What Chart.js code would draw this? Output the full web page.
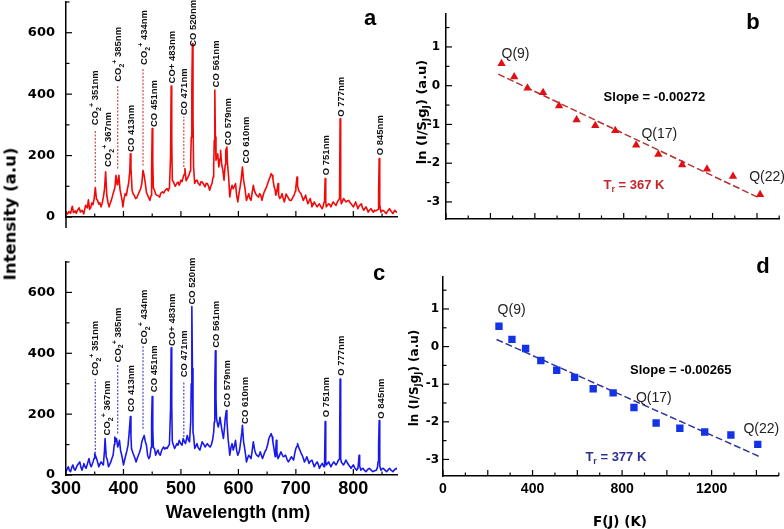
<!DOCTYPE html>
<html><head><meta charset="utf-8">
<script src="https://cdn.jsdelivr.net/npm/chart.js@4.4.1/dist/chart.umd.min.js"></script>
<style>
html,body{margin:0;padding:0;background:#fff;}
#root{position:relative;width:784px;height:529px;overflow:hidden;background:#fff;}
canvas{position:absolute;}
.t{position:absolute;white-space:nowrap;transform:translate(-50%,-50%);color:#000;line-height:1;}
.rot{transform:translate(-50%,-50%) rotate(-90deg);}
.sb{font-size:70%;position:relative;top:0.35em;}
</style></head><body>
<div id="root">
<canvas id="cA" width="400" height="240" style="left:0;top:0"></canvas>
<canvas id="cC" width="400" height="289" style="left:0;top:240px"></canvas>
<canvas id="cB" width="384" height="240" style="left:400px;top:0"></canvas>
<canvas id="cD" width="384" height="265" style="left:400px;top:264px"></canvas>
<div class="t rot" style="left:10px;top:214px;font:bold 16.5px 'DejaVu Sans'">Intensity (a.u)</div>
<div class="t" style="left:238px;top:512px;font:bold 18px 'Liberation Sans',Arial">Wavelength (nm)</div>
<div class="t" style="left:620px;top:521px;font:bold 13.5px 'DejaVu Sans'">F(J) (K)</div>
<div class="t rot" style="left:421px;top:112px;font:bold 13px 'DejaVu Sans'">ln (I/S<span class="sb">J</span>g<span class="sb">J</span>) (a.u)</div>
<div class="t rot" style="left:414px;top:378px;font:bold 12px 'DejaVu Sans'">ln (I/S<span class="sb">J</span>g<span class="sb">J</span>) (a.u)</div>
<div class="t" style="left:370px;top:18px;font:bold 22px 'Liberation Sans',Arial">a</div>
<div class="t" style="left:753px;top:22px;font:bold 22px 'Liberation Sans',Arial">b</div>
<div class="t" style="left:379px;top:273px;font:bold 22px 'Liberation Sans',Arial">c</div>
<div class="t" style="left:763px;top:266px;font:bold 22px 'Liberation Sans',Arial">d</div>
</div>
<script>
// ---------- DATA ----------
const wlTicks = [300,350,400,450,500,550,600,650,700,750,800,850];
const wlTickLabels = [300,400,500,600,700,800];
const intTicks = [0,100,200,300,400,500,600,700];
const intTickLabels = [0,200,400,600];
const fTicks = [0,100,200,300,400,500,600,700,800,900,1000,1100,1200,1300,1400,1500];
const fTickLabels = [0,400,800,1200];
const lnTicks = [-3,-2.5,-2,-1.5,-1,-0.5,0,0.5,1,1.5];
const lnTickLabels = [-3,-2,-1,0,1];

// panel a spectrum [wavelength nm, intensity a.u.]
const spectrumA = [[300,16],[303,10],[305,18],[308,12],[311,35],[313,14],[316,20],[318,12],[320,22],[323,30],[325,16],[328,22],[331,10],[334,38],[337,30],[339,56],[341,25],[343,30],[345,46],[347,40],[349,60],[351,96],[353,58],[355,54],[357,42],[359,46],[361,33],[363,45],[365,65],[367,90],[369,147],[371,70],[373,48],[375,33],[377,45],[379,55],[382,76],[385,95],[387,136],[389,105],[390,110],[392,136],[394,90],[396,70],[398,50],[399,33],[401,60],[403,76],[405,70],[407,92],[409,110],[411,150],[412,206],[413,160],[415,87],[417,75],[419,70],[421,60],[423,62],[425,71],[427,80],[430,92],[432,110],[434,152],[436,135],[438,110],[440,80],[442,71],[444,62],[446,54],[448,70],[449,150],[450,288],[451,180],[452,95],[454,87],[456,75],[458,71],[460,70],[463,65],[465,78],[468,82],[470,78],[473,88],[476,92],[478,85],[480,95],[482,200],[483,426],[484,250],[485,120],[487,114],[490,100],[493,110],[495,114],[497,103],
[500,120],[502,115],[504,130],[506,140],[507,158],[509,118],[511,125],[514,136],[516,150],[517,185],[518,260],[519,420],[520,565],[521,330],[522,163],[524,109],[526,118],[528,120],[530,110],[533,103],[535,115],[537,114],[540,105],[542,98],[544,110],[546,109],[548,100],[550,87],[552,100],[554,109],[556,130],[557,168],[558,250],[559,413],[560,260],[561,185],[563,200],[564,206],[566,163],[568,190],[569,217],[571,170],[573,152],[575,120],[577,170],[578,217],[580,228],[581,175],[583,130],[585,65],[587,90],[589,103],[591,92],[593,100],[595,109],[597,70],[599,49],[601,75],[603,98],[605,125],[607,163],[609,120],[611,98],[613,70],[614,54],[616,65],[618,76],[620,60],[622,54],[624,80],[626,103],[628,85],[630,76],[632,70],[635,65],[637,76],[639,70],[641,54],[643,70],[645,82],[647,90],[649,98],[651,110],[653,120],[655,130],[657,141],[659,135],[660,125],[662,100],[664,87],[665,71],[667,85],[669,109],[670,70],[672,60],[674,65],[676,76],[678,60],[680,49],[683,75],[686,65],[689,55],
[692,54],[695,65],[697,71],[699,85],[700,98],[702,130],[703,100],[705,87],[707,80],[709,76],[711,65],[713,54],[715,62],[717,71],[719,55],[721,43],[723,52],[725,60],[727,45],[728,33],[730,40],[732,49],[734,42],[737,33],[739,38],[741,43],[743,35],[746,27],[748,38],[749,49],[750,60],[751,125],[752,50],[753,33],[755,38],[757,43],[759,40],[761,33],[763,42],[765,49],[767,44],[770,38],[772,48],[774,54],[776,60],[777,320],[778,65],[779,43],[781,50],[783,60],[785,55],[787,49],[789,52],[792,54],[794,48],[796,43],[798,38],[800,33],[802,40],[804,49],[806,38],[808,27],[810,35],[812,40],[814,43],[816,30],[818,22],[820,28],[822,33],[824,25],[826,16],[828,22],[831,27],[833,20],[835,16],[837,22],[839,20],[841,22],[843,25],[844,80],[845,190],[846,40],[848,16],[851,22],[854,18],[857,11],[860,20],[863,27],[866,18],[869,11],[872,22],[875,16],[876,18]];

// panel c spectrum [wavelength nm, intensity a.u.]
const spectrumC = [[300,11],[302,20],[304,27],[306,15],[308,11],[310,25],[312,33],[314,20],[316,16],[318,25],[320,33],[322,38],[324,43],[326,25],[328,16],[330,30],[331,38],[333,28],[335,22],[337,35],[340,54],[342,35],[344,27],[346,38],[347,43],[349,55],[350,71],[352,60],[354,49],[356,35],[357,27],[359,35],[361,43],[363,38],[365,33],[367,80],[368,120],[370,60],[372,49],[374,27],[376,35],[378,43],[380,55],[382,65],[384,100],[385,125],[387,110],[388,120],[390,92],[392,105],[393,114],[395,80],[397,65],[399,45],[400,33],[402,50],[404,65],[406,80],[408,98],[410,141],[412,192],[413,130],[414,87],[416,75],[418,65],[420,55],[422,43],[424,55],[426,65],[428,75],[430,87],[432,110],[434,120],[436,130],[438,110],[440,98],[442,65],[444,54],[446,60],[448,90],[449,180],[450,258],[451,150],[452,90],[454,87],[456,65],[458,75],[460,82],[462,70],[464,65],[466,78],[468,87],[470,92],[472,85],[474,90],[476,87],[478,95],[480,100],[482,220],[483,418],[484,230],[485,110],[487,98],[489,87],[491,95],[493,103],[495,98],[497,114],
[499,105],[502,98],[504,120],[506,110],[508,103],[511,130],[513,115],[515,109],[517,174],[518,300],[519,554],[520,350],[521,140],[522,130],[524,87],[526,95],[528,103],[530,90],[533,82],[535,95],[537,109],[540,100],[542,92],[544,98],[546,103],[549,95],[551,92],[553,100],[555,114],[557,140],[558,174],[559,300],[560,408],[561,250],[562,185],[564,165],[565,158],[567,175],[568,190],[570,163],[572,140],[574,120],[576,160],[577,185],[579,212],[580,180],[582,120],[584,85],[585,65],[587,90],[589,103],[591,82],[593,95],[595,114],[597,80],[599,65],[601,75],[602,82],[604,110],[606,140],[607,163],[609,110],[611,87],[613,60],[614,43],[616,55],[618,65],[620,60],[622,54],[624,80],[626,109],[628,85],[630,71],[632,65],[635,60],[637,70],[638,76],[640,65],[642,54],[644,65],[646,76],[648,82],[649,87],[651,100],[653,120],[655,128],[657,136],[659,125],[660,109],[662,85],[664,60],[665,80],[666,114],[667,75],[669,54],[671,62],[674,76],[676,68],[678,60],[680,62],[682,65],
[685,50],[687,43],[690,52],[692,60],[694,55],[696,49],[698,70],[700,87],[702,95],[703,103],[705,90],[707,82],[709,72],[711,65],[713,55],[715,43],[717,50],[719,60],[721,50],[723,38],[725,45],[728,49],[730,38],[732,27],[734,35],[737,43],[739,35],[741,22],[743,30],[746,38],[748,30],[749,27],[750,40],[751,176],[752,45],[753,33],[755,38],[757,43],[759,35],[761,27],[763,35],[766,43],[768,38],[770,33],[772,40],[774,49],[776,52],[777,315],[778,55],[779,43],[781,38],[783,33],[785,40],[787,49],[789,42],[792,33],[794,28],[796,22],[798,28],[800,33],[802,25],[804,20],[806,16],[808,22],[809,40],[810,65],[811,30],[813,16],[815,20],[817,22],[819,16],[822,11],[825,18],[828,22],[831,16],[834,11],[837,14],[840,16],[842,25],[843,43],[844,100],[845,179],[846,30],[848,16],[850,20],[852,22],[855,16],[858,11],[861,18],[863,22],[866,15],[869,11],[872,18],[875,22],[876,18]];

// peak labels
const peakSpecies = ['CO2+','CO2+','CO2+','CO','CO2+','CO','CO+','CO','CO','CO','CO','CO','O','O','O'];
const peakText = ['351nm','367nm','385nm','413nm','434nm','451nm','483nm','471nm','520nm','561nm','579nm','610nm','751nm','777nm','845nm'];
const labelWlA = [350,372,390,412,435,452,484,505,520,560,581,612,751,777,845];
const labelBaseA = [299,163,440,212,495,293,435,331,554,422,234,174,136,326,201];
const labelWlC = [350,371,389,412,435,452,483,505,519,561,580,611,751,778,847];
const labelBaseC = [326,130,370,207,429,272,424,321,560,418,223,168,190,326,185];
// dashed guide lines
const dashWl = [351,390,434,505];
const dashLoA = [114,158,168,163], dashHiA = [285,430,484,326];
const dashLoC = [71,136,152,125], dashHiC = [315,364,424,304];

// Boltzmann plots
const fJB = [250,307,367,437,509,588,672,762,856,956,1063,1175,1292,1414];
const lnB = [0.57,0.23,-0.06,-0.18,-0.52,-0.88,-1.03,-1.16,-1.53,-1.77,-2.04,-2.15,-2.34,-2.81];
const fitB_x = [235,1402], fitB_y = [0.30,-2.874];
const fJD = [250,308,369,437,508,588,671,760,853,952,1058,1169,1286,1406];
const lnD = [0.54,0.19,-0.05,-0.37,-0.63,-0.82,-1.12,-1.23,-1.62,-2.03,-2.17,-2.27,-2.35,-2.60];
const fitD_x = [239,1419], fitD_y = [0.19,-2.937];

// ---------- HELPERS ----------
const SANS = "'Liberation Sans', Arial, sans-serif";
function drawRich(ctx, x, y, parts, opt) {
  ctx.save(); ctx.translate(x, y); if (opt.rotate) ctx.rotate(-Math.PI/2);
  const fam = opt.family || SANS;
  const f = p => (p.b ? 'bold ' : '') + p.s + 'px ' + fam;
  let w = 0; parts.forEach(p => { ctx.font = f(p); w += ctx.measureText(p.t).width; });
  let cx = opt.align === 'center' ? -w/2 : 0;
  ctx.fillStyle = opt.color || '#000'; ctx.textBaseline = 'alphabetic'; ctx.textAlign = 'left';
  const base = parts[0].s * 0.36;
  parts.forEach(p => { ctx.font = f(p); ctx.fillText(p.t, cx, base + (p.dy || 0)); cx += ctx.measureText(p.t).width; });
  ctx.restore();
}
function isMul(v, m) { const r = v / m; return Math.abs(r - Math.round(r)) < 1e-6; }
function makeDeco(cfg) {
  return { id: 'deco', afterDraw(chart) {
    const ctx = chart.ctx, xs = chart.scales.x, ys = chart.scales.y, ca = chart.chartArea;
    ctx.save();
    ctx.strokeStyle = '#000'; ctx.lineWidth = 1.2;
    xs.ticks.forEach(t => { const p = xs.getPixelForValue(t.value); const L = isMul(t.value, cfg.xMajor) ? 6 : 3.5;
      ctx.beginPath(); ctx.moveTo(p, ca.bottom); ctx.lineTo(p, ca.bottom - L); ctx.stroke(); });
    ys.ticks.forEach(t => { const p = ys.getPixelForValue(t.value); const L = isMul(t.value, cfg.yMajor) ? 6 : 3.5;
      ctx.beginPath(); ctx.moveTo(ca.left, p); ctx.lineTo(ca.left + L, p); ctx.stroke(); });
    if (cfg.axisExt) { ctx.lineWidth = 1.5; ctx.beginPath(); ctx.moveTo(ca.left, ca.bottom); ctx.lineTo(ca.left, ca.bottom + cfg.axisExt); ctx.stroke(); }
    (cfg.dashes || []).forEach(d => {
      ctx.strokeStyle = d.color; ctx.lineWidth = 1.2; ctx.setLineDash([2, 1.5]);
      const px = xs.getPixelForValue(d.x);
      ctx.beginPath(); ctx.moveTo(px, ys.getPixelForValue(d.lo)); ctx.lineTo(px, ys.getPixelForValue(d.hi)); ctx.stroke();
    });
    ctx.setLineDash([]);
    (cfg.texts || []).forEach(t => drawRich(ctx, xs.getPixelForValue(t.x), ys.getPixelForValue(t.y), t.parts, t));
    ctx.restore();
  }};
}
function fixW(w) { return s => { s.width = w; s.paddingTop = 0; s.paddingBottom = 0; s.paddingLeft = 0; s.paddingRight = 0; }; }
function fixH(h) { return s => { s.height = h; s.paddingTop = 0; s.paddingBottom = 0; s.paddingLeft = 0; s.paddingRight = 0; }; }
function setTicks(arr) { return s => { s.ticks = arr.map(v => ({ value: v })); }; }
function labelFn(arr) { return v => arr.indexOf(v) >= 0 ? String(v) : ''; }

function peakParts(i) {
  const sp = peakSpecies[i], s = 9.5;
  if (sp === 'CO2+') return [{t:'CO',s,b:1},{t:'2',s:7,b:1,dy:2.8},{t:'+',s:7,b:1,dy:-3.8},{t:' ' + peakText[i],s,b:1}];
  return [{t: sp + ' ' + peakText[i], s, b:1}];
}
function spectrumChart(id, spectrum, color, labelWl, labelBase, dashLo, dashHi, dashColor, pad, xH, showX, ext) {
  const texts = labelWl.map((x, i) => ({ x, y: labelBase[i], parts: peakParts(i), rotate: true, color: '#111' }));
  const dashes = dashWl.map((x, i) => ({ x, lo: dashLo[i], hi: dashHi[i], color: dashColor }));
  return new Chart(document.getElementById(id), {
    type: 'line',
    data: { datasets: [{ data: spectrum.map(p => ({ x: p[0], y: p[1] })), borderColor: color, borderWidth: 1.6, pointRadius: 0, tension: 0, borderJoinStyle: 'round' }] },
    options: {
      responsive: false, animation: false, devicePixelRatio: 1,
      layout: { padding: { left: 0, top: pad, right: 3, bottom: 0 } },
      plugins: { legend: { display: false }, tooltip: { enabled: false } },
      scales: {
        x: { type: 'linear', min: 300, max: 876, afterBuildTicks: setTicks(wlTicks), afterFit: fixH(xH),
             ticks: { display: showX, callback: labelFn(wlTickLabels), autoSkip: false, maxRotation: 0, padding: 3, color: '#000', font: { family: SANS, weight: 'bold', size: 18 } },
             grid: { display: false, drawTicks: false }, border: { display: true, color: '#000', width: 1.5 } },
        y: { type: 'linear', min: 0, max: 700, afterBuildTicks: setTicks(intTicks), afterFit: fixW(66),
             ticks: { callback: labelFn(intTickLabels), autoSkip: false, padding: 11, color: '#000', font: { family: "'DejaVu Sans'", weight: 'bold', size: 13 } },
             grid: { display: false, drawTicks: false }, border: { display: true, color: '#000', width: 1.5 } }
      }
    },
    plugins: [makeDeco({ xMajor: 100, yMajor: 200, axisExt: ext, dashes, texts })]
  });
}
spectrumChart('cA', spectrumA, 'rgb(240,10,10)', labelWlA, labelBaseA, dashLoA, dashHiA, '#d24848', 2, 23, false, 11);
spectrumChart('cC', spectrumC, 'rgb(25,25,235)', labelWlC, labelBaseC, dashLoC, dashHiC, '#4a4ac8', 22, 54, true, 0);

function boltzChart(id, fj, ln, fitX, fitY, color, lineColor, style, radius, pad, yW, yPad, xH, showX, tickSize, texts) {
  return new Chart(document.getElementById(id), {
    type: 'scatter',
    data: { datasets: [
      { data: fj.map((x, i) => ({ x, y: ln[i] })), pointStyle: style, pointRadius: radius, backgroundColor: color, borderColor: color, borderWidth: 0, showLine: false },
      { data: fitX.map((x, i) => ({ x, y: fitY[i] })), showLine: true, pointRadius: 0, borderColor: lineColor, borderWidth: 1.5, borderDash: [7, 3] }
    ] },
    options: {
      responsive: false, animation: false, devicePixelRatio: 1,
      layout: { padding: { left: 0, top: pad, right: 4, bottom: 0 } },
      plugins: { legend: { display: false }, tooltip: { enabled: false } },
      scales: {
        x: { type: 'linear', min: 0, max: 1500, afterBuildTicks: setTicks(fTicks), afterFit: fixH(xH),
             ticks: { display: showX, callback: labelFn(fTickLabels), autoSkip: false, maxRotation: 0, padding: 5, color: '#000', font: { family: SANS, weight: 'bold', size: 14 } },
             grid: { display: false, drawTicks: false }, border: { display: true, color: '#000', width: 1.5 } },
        y: { type: 'linear', min: -3.44, max: 1.85, afterBuildTicks: setTicks(lnTicks), afterFit: fixW(yW),
             ticks: { callback: labelFn(lnTickLabels), autoSkip: false, padding: yPad, color: '#000', font: { family: "'DejaVu Sans'", weight: 'bold', size: tickSize } },
             grid: { display: false, drawTicks: false }, border: { display: true, color: '#000', width: 1.5 } }
      }
    },
    plugins: [makeDeco({ xMajor: 200, yMajor: 1, texts })]
  });
}
boltzChart('cB', fJB, lnB, fitB_x, fitB_y, 'rgb(225,15,20)', '#b5332e', 'triangle', 4.8, 14, 46, 6, 21, false, 12, [
  { x: 250, y: 0.85, parts: [{ t: 'Q(9)', s: 14 }], color: '#222' },
  { x: 880, y: -1.22, parts: [{ t: 'Q(17)', s: 14 }], color: '#222' },
  { x: 1365, y: -2.33, parts: [{ t: 'Q(22)', s: 14 }], color: '#222' },
  { x: 938, y: -0.27, parts: [{ t: 'Slope = -0.00272', s: 13, b: 1 }], align: 'center', color: '#000' },
  { x: 709, y: -2.54, parts: [{ t: 'T', s: 13, b: 1 }, { t: 'r', s: 9, b: 1, dy: 3 }, { t: ' = 367 K', s: 13, b: 1 }], color: '#c3282d' }
]);
boltzChart('cD', fJD, lnD, fitD_x, fitD_y, 'rgb(20,50,230)', '#33399a', 'rect', 5.2, 13, 43, 4, 53, true, 12, [
  { x: 244, y: 1.0, parts: [{ t: 'Q(9)', s: 14 }], color: '#222' },
  { x: 862, y: -1.33, parts: [{ t: 'Q(17)', s: 14 }], color: '#222' },
  { x: 1342, y: -2.15, parts: [{ t: 'Q(22)', s: 14 }], color: '#222' },
  { x: 1062, y: -0.61, parts: [{ t: 'Slope = -0.00265', s: 13, b: 1 }], align: 'center', color: '#000' },
  { x: 636, y: -2.93, parts: [{ t: 'T', s: 13, b: 1 }, { t: 'r', s: 9, b: 1, dy: 3 }, { t: ' = 377 K', s: 13, b: 1 }], color: '#2e3192' }
]);
</script>
</body></html>
